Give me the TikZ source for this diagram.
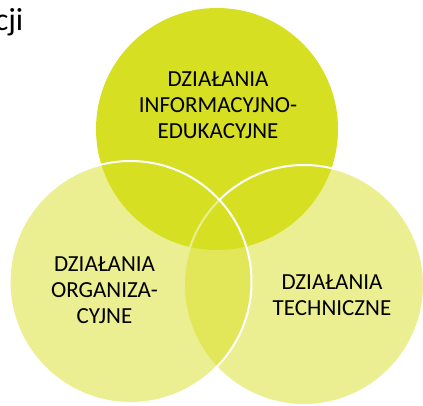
\documentclass[tikz,border=0pt]{standalone}
\usepackage{fontspec}
\setmainfont{Carlito}
\definecolor{venn}{RGB}{215,223,35}
\begin{document}
\begin{tikzpicture}[x=1pt,y=-1pt,
  disc/.style={circle, inner sep=0pt, outer sep=0pt, minimum size=#1},
  solid disc/.style={disc=#1, fill=venn},
  ring/.style={disc=#1, fill=venn, fill opacity=0.5, draw=white, draw opacity=1, line width=2pt},
  lbl/.style={align=center, font=\fontsize{23}{26}\selectfont, text=black, inner sep=0pt},
  ttl/.style={anchor=base east, font=\fontsize{32}{36}\selectfont, text=black, inner sep=0pt}]
\useasboundingbox (0,0) rectangle (423,405);
\clip (0,0) rectangle (423,405);
\node[solid disc=242pt] (top) at (217,129) {};
\node[ring=240pt] (right) at (304,285) {};
\node[ring=242pt] (left) at (130.5,282) {};
\node[lbl] (ttop) at (218,105) {DZIAŁANIA\\INFORMACYJNO-\\EDUKACYJNE};
\node[lbl] (tleft) at (104.5,290.5) {DZIAŁANIA\\ORGANIZA-\\CYJNE};
\node[lbl] (tright) at (332,295) {DZIAŁANIA\\TECHNICZNE};
\node[ttl] (title) at (23.5,30) {cji};
\end{tikzpicture}
\end{document}
